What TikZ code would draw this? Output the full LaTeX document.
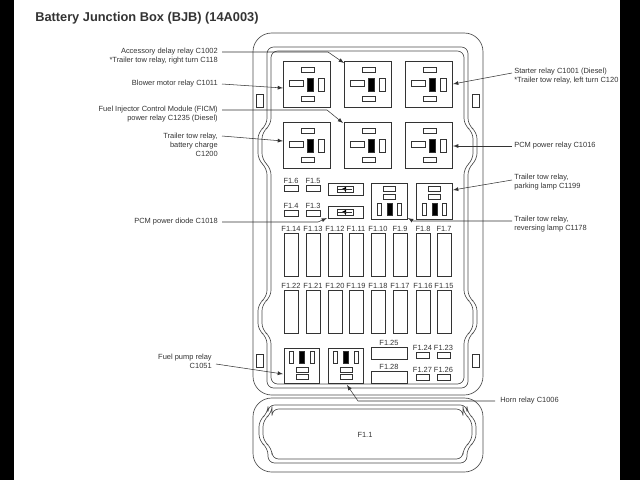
\documentclass[tikz,border=0pt]{standalone}
\usepackage{fontspec}
\setmainfont{Liberation Sans}
\usetikzlibrary{positioning}

\begin{document}
\begin{tikzpicture}[x=0.75pt,y=-0.75pt,
    every node/.style={font=\fontsize{5.6}{6.6}\selectfont, text=black!80, inner sep=0pt},
    part/.style={draw=black!80, line width=0.45pt},
    house/.style={draw=black!70, line width=0.5pt, rounded corners=7pt},
    pin/.style={part, fill=black},
    lead/.style={draw=black!80, line width=0.4pt, -latex}]
    \useasboundingbox (0,0) rectangle (640,480);
    % side strips
    \fill[black] (0,0) rectangle (14,480);
    \fill[black] (620,0) rectangle (640,480);
    % title
    \node[anchor=west, font=\fontsize{9.6}{11}\selectfont\bfseries] (title) at (35,18) {Battery Junction Box (BJB) (14A003)};
    % HOUSING
    \draw[house, rounded corners=14pt] (253,33) rectangle (483,395);
    \foreach \d in {0,4} {
      \draw[house, rounded corners=5pt] ({267+\d},{47+\d}) -- ({468-\d},{47+\d})
        -- ({468-\d},125) -- ({477-\d},132) -- ({477-\d},160) -- ({468-\d},168)
        -- ({468-\d},297) -- ({477-\d},304) -- ({477-\d},330) -- ({468-\d},337)
        -- ({468-\d},{388-\d}) -- ({267+\d},{388-\d})
        -- ({267+\d},337) -- ({258+\d},330) -- ({258+\d},304) -- ({267+\d},297)
        -- ({267+\d},168) -- ({258+\d},160) -- ({258+\d},132) -- ({267+\d},125) -- cycle;
    }
    % tabs
    \foreach \y in {94,354} {
      \draw[part] (256,\y) rectangle (263,{\y+13});
      \draw[part] (472,\y) rectangle (479,{\y+13});
    }
    % lower housing
    \draw[house, rounded corners=14pt] (253,398) rectangle (483,472);
    \foreach \d in {0,4} {
      \draw[house, rounded corners=5pt] ({268+\d},{405+\d}) -- ({467-\d},{405+\d})
        -- ({467-\d},413) -- ({476-\d},420) -- ({476-\d},441) -- ({467-\d},448)
        -- ({467-\d},{463-\d}) -- ({268+\d},{463-\d})
        -- ({268+\d},448) -- ({259+\d},441) -- ({259+\d},420) -- ({268+\d},413) -- cycle;
    }
    \node (f11) at (365,435) {F1.1};
    % BIG RELAYS
    \foreach \x/\y/\n in {283/61/ra, 344/61/rb, 405/61/rc, 283/122/rd, 344/122/re, 405/122/rf} {
      \begin{scope}[shift={(\x,\y)}]
        \draw[part] (0,0) rectangle (47,46);
        \draw[part] (18,6) rectangle (31,11);
        \draw[part] (6,19) rectangle (20,25);
        \draw[pin] (24,17) rectangle (30,30);
        \draw[part] (35,17) rectangle (41,30);
        \draw[part] (18,35) rectangle (31,40);
      \end{scope}
      \coordinate (\n) at (\x,\y);
    }
    % small fuses
    \foreach \x/\y/\n in {284/185/F1.6, 306/185/F1.5, 284/210/F1.4, 306/210/F1.3} {
      \draw[part] (\x,\y) rectangle ({\x+14},{\y+6});
      \node[anchor=south] at ({\x+7},{\y-1.5}) {\n};
    }
    % diodes
    \foreach \y/\n in {183/da, 206/db} {
      \begin{scope}[shift={(328,\y)}]
        \draw[part] (0,0) rectangle (35,12);
        \draw[part] (9,3) rectangle (25,9);
        \draw[part] (17,3) -- (17,9);
        \fill[black] (14,6) -- (18,3.8) -- (18,8.2) -- cycle;
        \draw[part] (10,6) -- (24,6);
      \end{scope}
      \coordinate (\n) at (328,\y);
    }
    % small relays
    \foreach \x/\n in {371/sa, 416/sb} {
      \begin{scope}[shift={(\x,183)}]
        \draw[part] (0,0) rectangle (36,36);
        \draw[part] (12,3) rectangle (24,8);
        \draw[part] (12,11) rectangle (24,16);
        \draw[part] (6,20) rectangle (10,32);
        \draw[pin] (16,20) rectangle (21,32);
        \draw[part] (26,20) rectangle (30,32);
      \end{scope}
      \coordinate (\n) at (\x,183);
    }
    % fuse rows
    \foreach \x [count=\i] in {284,306,328,349,371,393,416,437} {
      \pgfmathtruncatemacro\a{15-\i}
      \pgfmathtruncatemacro\b{23-\i}
      \draw[part] (\x,233) rectangle ({\x+14},276);
      \node[anchor=south] at ({\x+7},231.5) {F1.\a};
      \draw[part] (\x,290) rectangle ({\x+14},333);
      \node[anchor=south] at ({\x+7},288.5) {F1.\b};
    }
    % lower relays
    \foreach \x/\n in {284/ba, 328/bb} {
      \begin{scope}[shift={(\x,348)}]
        \draw[part] (0,0) rectangle (35,35);
        \draw[part] (5,3) rectangle (9,15);
        \draw[pin] (15,3) rectangle (20,15);
        \draw[part] (26,3) rectangle (30,15);
        \draw[part] (12,19) rectangle (24,24);
        \draw[part] (12,26) rectangle (24,31);
      \end{scope}
      \coordinate (\n) at (\x,348);
    }
    % lower fuses
    \draw[part] (371,347) rectangle (407,359);
    \node[anchor=south] at (389,345.5) {F1.25};
    \draw[part] (371,371) rectangle (407,383);
    \node[anchor=south] at (389,369.5) {F1.28};
    \foreach \x/\y/\n in {416/352/F1.24, 437/352/F1.23, 416/374/F1.27, 437/374/F1.26} {
      \draw[part] (\x,\y) rectangle ({\x+13},{\y+6});
      \node[anchor=south] at ({\x+6.5},{\y-1.5}) {\n};
    }
    % LABELS, LEFT
    \node[anchor=east, align=right] (lacc) at (218,56) {Accessory delay relay C1002\\*Trailer tow relay, right turn C118};
    \node[anchor=east] (lblow) at (218,84) {Blower motor relay C1011};
    \node[anchor=east, align=right] (lficm) at (218,114) {Fuel Injector Control Module (FICM)\\power relay C1235 (Diesel)};
    \node[anchor=east, align=right] (lbat) at (218,145) {Trailer tow relay,\\battery charge\\C1200};
    \node[anchor=east] (ldio) at (218,222) {PCM power diode C1018};
    \node[anchor=east, align=right] (lpump) at (212,361) {Fuel pump relay\\C1051};
    % LABELS, RIGHT
    \node[anchor=west, align=left] (lstart) at (514,76) {Starter relay C1001 (Diesel)\\*Trailer tow relay, left turn C120};
    \node[anchor=west] (lpcm) at (514,146) {PCM power relay C1016};
    \node[anchor=west, align=left] (lpark) at (514,182) {Trailer tow relay,\\parking lamp C1199};
    \node[anchor=west, align=left] (lrev) at (514,224) {Trailer tow relay,\\reversing lamp C1178};
    \node[anchor=west] (lhorn) at (500,401) {Horn relay C1006};
    % leader lines
    \draw[lead] (222,52) -- (328,52) -- ([shift={(0,2)}]rb);
    \draw[lead] (222,84) -- ([shift={(0,27)}]ra);
    \draw[lead] (222,110) -- (327,110) -- ([shift={(-1,1)}]re);
    \draw[lead] (222,136) -- ([shift={(0,19)}]rd);
    \draw[lead] (222,222) -- (318,222) -- ([shift={(-1,12)}]db);
    \draw[lead] (216,364) -- ([shift={(-1,26)}]ba);
    \draw[lead] (512,73) -- ([shift={(48,23)}]rc);
    \draw[lead] (512,146) -- ([shift={(48,24)}]rf);
    \draw[lead] (512,180) -- ([shift={(37,7)}]sb);
    \draw[lead] (512,221) -- (413,221) -- ([shift={(37,35)}]sa);
    \draw[lead] (495,401) -- (358,401) -- ([shift={(19,37)}]bb);
\end{tikzpicture}
\end{document}
